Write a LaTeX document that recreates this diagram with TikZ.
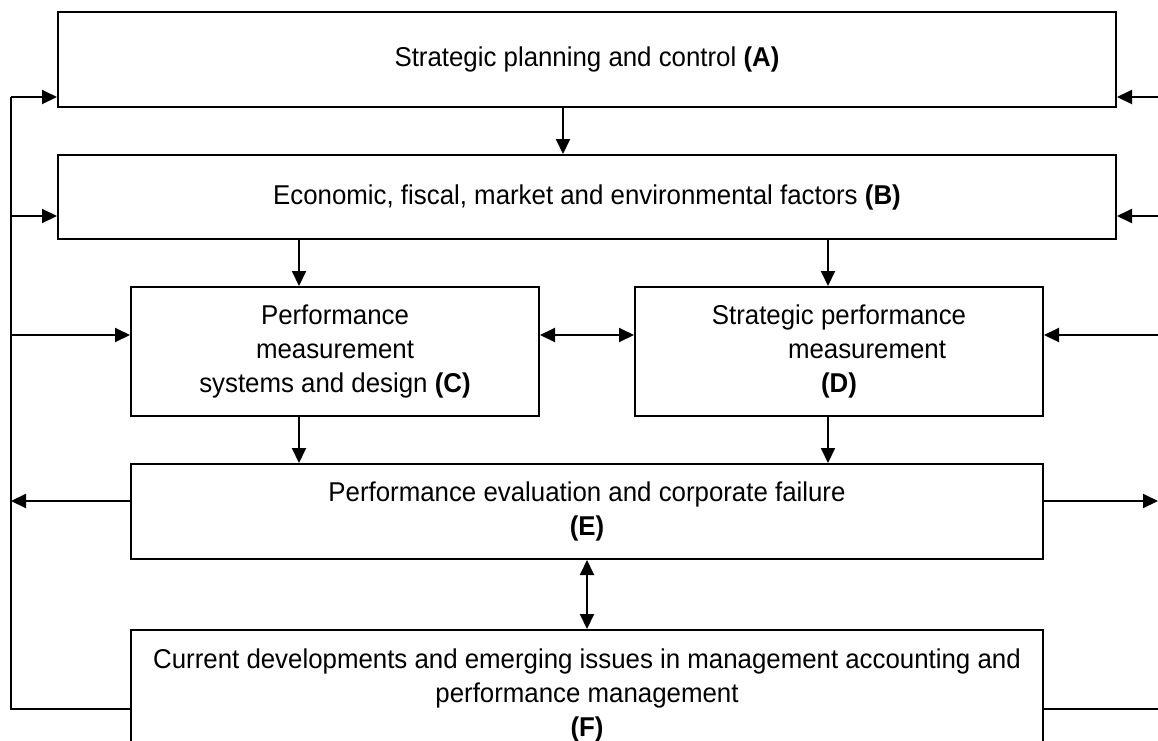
\documentclass[tikz,border=0pt]{standalone}
\usepackage{fontspec}
\setmainfont{Liberation Sans}[FakeStretch=0.95]
\usetikzlibrary{arrows.meta}

\begin{document}
\begin{tikzpicture}[x=0.5pt, y=-0.5pt, line width=1pt,
    box/.style={draw, align=center, inner sep=0pt, font=\fontsize{13.6}{17}\selectfont},
    tip/.style={-{Triangle[length=7.5pt,width=7pt]}},
    tips/.style={{Triangle[length=7.5pt,width=7pt]}-{Triangle[length=7.5pt,width=7pt]}}]
  \path[use as bounding box, clip] (0,0) rectangle (1158,740);
  \node[box, minimum width=529pt, minimum height=47.5pt] (plan) at (587,59.5) {Strategic planning and control \textbf{(A)}};
  \node[box, minimum width=529pt, minimum height=42pt] (factors) at (587,197) {Economic, fiscal, market and environmental factors \textbf{(B)}};
  \node[box, minimum width=204pt, minimum height=64.5pt] (pms) at (335,351.5) {Performance\\measurement\\systems and design \textbf{(C)}};
  \node[box, minimum width=204pt, minimum height=64.5pt] (spm) at (839,351.5) {Strategic performance\\\hspace*{28pt}measurement\\\textbf{(D)}};
  \node[box, minimum width=456pt, minimum height=47.5pt] (eval) at (587,511.5) {Performance evaluation and corporate failure\\\textbf{(E)}};
  \node[box, minimum width=456pt, minimum height=65pt] (issues) at (587,695) {Current developments and emerging issues in management accounting and\\performance management\\\textbf{(F)}};
  \coordinate (lbus) at (11,0);
  \coordinate (rbus) at (1158,0);
  \draw[tip] ([xshift=-12pt]plan.south) -- ([xshift=-12pt]factors.north);
  \foreach \n/\dx in {pms/-18pt, spm/-5.5pt}{
    \coordinate (\n-n) at ([xshift=\dx]\n.north);
    \coordinate (\n-s) at ([xshift=\dx]\n.south);
    \draw[tip] (\n-n |- factors.south) -- (\n-n);
    \draw[tip] (\n-s) -- (\n-s |- eval.north);
  }
  \draw[tips] ([yshift=8.25pt]pms.east) -- ([yshift=8.25pt]spm.west);
  \draw[tips] (eval.south) -- (issues.north);
  \foreach \n/\dy in {plan/-18.75pt, factors/-9.5pt, pms/8.25pt}{
    \coordinate (\n-w) at ([yshift=\dy]\n.west);
    \draw[tip] (\n-w -| lbus) -- (\n-w);
  }
  \foreach \n/\dy in {plan/-18.75pt, factors/-9.5pt, spm/8.25pt}{
    \coordinate (\n-e) at ([yshift=\dy]\n.east);
    \draw[tip] (\n-e -| rbus) -- (\n-e);
  }
  \coordinate (eval-w) at ([yshift=5.25pt]eval.west);
  \coordinate (eval-e) at ([yshift=5.25pt]eval.east);
  \coordinate (issues-w) at ([yshift=-7pt]issues.west);
  \coordinate (issues-e) at ([yshift=-7pt]issues.east);
  \draw[tip] (eval-w) -- (eval-w -| lbus);
  \draw[tip] (eval-e) -- (eval-e -| rbus);
  \draw (issues-w) -- (issues-w -| lbus) -- (plan-w -| lbus);
  \draw (issues-e) -- (issues-e -| rbus);
\end{tikzpicture}
\end{document}
